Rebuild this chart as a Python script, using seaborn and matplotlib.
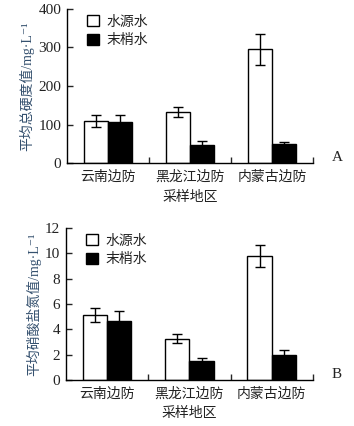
import matplotlib
matplotlib.use("Agg")
import matplotlib.pyplot as plt
import seaborn as sns
import pandas as pd

sns.set_style("ticks")
plt.rcParams['font.family'] = ['Liberation Serif', 'Noto Sans CJK SC', 'DejaVu Sans']

regions = ["云南边防", "黑龙江边防", "内蒙古边防"]
water = ["水源水", "末梢水"]

# A: total hardness
hard_src = [110, 132, 295]
hard_src_err = [15, 13, 40]
hard_tap = [107, 48, 50]
hard_tap_err = [18, 10, 5]

# B: nitrate nitrogen
nit_src = [5.1, 3.25, 9.8]
nit_src_err = [0.55, 0.35, 0.85]
nit_tap = [4.65, 1.5, 2.0]
nit_tap_err = [0.8, 0.2, 0.4]

cjk = ['Noto Sans CJK SC', 'DejaVu Sans']
mixed = ['Liberation Serif', 'Noto Sans CJK SC', 'DejaVu Sans']
txt = '#222222'


def panel(ax, src, src_err, tap, tap_err, ymax, ystep, ylabel):
    df = pd.DataFrame({
        "地区": regions * 2,
        "类型": [water[0]] * 3 + [water[1]] * 3,
        "值": src + tap,
        "误差": src_err + tap_err,
    })
    sns.barplot(data=df, x="地区", y="值", hue="类型", hue_order=water,
                palette={water[0]: "white", water[1]: "black"},
                edgecolor="black", linewidth=1.0, width=0.59, gap=0,
                errorbar=None, ax=ax)
    # error bars at the bar centres
    bars = [p for p in ax.patches if p.get_height() > 0]
    errs = []
    for h in water:
        errs += list(df.loc[df["类型"] == h, "误差"])
    for p, e in zip(bars, errs):
        cx = p.get_x() + p.get_width() / 2
        ax.errorbar(cx, p.get_height(), yerr=e, color="black", lw=1.0,
                    capsize=3.5, capthick=1.0)
    ax.set_xlim(-0.5, 2.5)
    ax.set_ylim(0, ymax)
    ax.set_yticks([ystep * i for i in range(int(ymax / ystep) + 1)])
    ax.set_xticks([0, 1, 2])
    ax.set_xticklabels(regions, family=cjk, fontsize=10, color=txt)
    ax.set_xticks([0.5, 1.5, 2.5], minor=True)
    ax.tick_params(axis="x", which="major", length=0, pad=5)
    ax.tick_params(axis="x", which="minor", direction="in", length=4, width=1)
    ax.tick_params(axis="y", direction="in", length=4, width=1,
                   labelsize=11, labelcolor=txt, pad=4)
    sns.despine(ax=ax)
    for s in ["left", "bottom"]:
        ax.spines[s].set_linewidth(1.0)
        ax.spines[s].set_color("black")
    ax.set_xlabel("采样地区", family=cjk, fontsize=10, color=txt, labelpad=4)
    ax.set_ylabel(ylabel, family=mixed, fontsize=10, color='#34506e', labelpad=3)
    leg = ax.legend(loc="upper left", bbox_to_anchor=(0.03, 1.045), frameon=False,
                    handlelength=0.85, handleheight=0.85, handletextpad=0.55,
                    labelspacing=0.35, prop={'family': cjk, 'size': 10})
    for t in leg.get_texts():
        t.set_color(txt)
    for hnd in leg.legend_handles:
        hnd.set_edgecolor("black")
        hnd.set_linewidth(1.0)


fig = plt.figure(figsize=(3.54, 4.26), dpi=100)
ax1 = fig.add_axes([0.189, 0.617, 0.695, 0.362])
ax2 = fig.add_axes([0.186, 0.108, 0.698, 0.357])

panel(ax1, hard_src, hard_src_err, hard_tap, hard_tap_err, 400, 100,
      "平均总硬度值/mg·L⁻¹")
panel(ax2, nit_src, nit_src_err, nit_tap, nit_tap_err, 12, 2,
      "平均硝酸盐氮值/mg·L⁻¹")

fig.text(0.952, 0.631, "A", fontsize=11, color=txt, ha="center", va="center")
fig.text(0.952, 0.122, "B", fontsize=11, color=txt, ha="center", va="center")

fig.savefig("out.png", dpi=100, facecolor="white")
